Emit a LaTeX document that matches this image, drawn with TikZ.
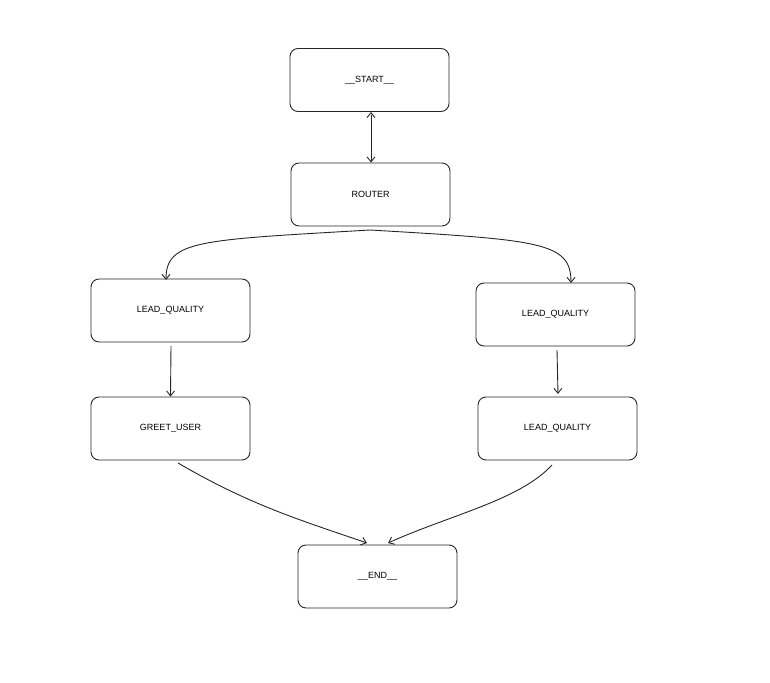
\documentclass[tikz,border=0pt]{standalone}
\usepackage{fontspec}
\setmainfont{Liberation Sans}
\usetikzlibrary{arrows.meta}
\begin{document}
\begin{tikzpicture}[x=1pt,y=-1pt,
  box/.style={draw=black!85,line width=0.9pt,rounded corners=8pt,minimum width=159pt,minimum height=63pt,font=\fontsize{9}{10}\selectfont,inner sep=0pt},
  arr/.style={draw=black!85,line width=0.9pt,-{Straight Barb[length=5pt,width=8pt]}}]
\useasboundingbox (0,0) rectangle (770,682);
\node[box] (start) at (369.5,80) {\_\_START\_\_};
\node[box] (router) at (370.5,194.5) {ROUTER};
\node[box] (lq1) at (170.5,310.5) {LEAD\_QUALITY};
\node[box] (lq2) at (555.5,314.5) {LEAD\_QUALITY};
\node[box] (greet) at (170.5,428.5) {GREET\_USER};
\node[box] (lq3) at (557.5,428.5) {LEAD\_QUALITY};
\node[box] (end) at (377.5,576.5) {\_\_END\_\_};
\draw[arr] (371,114) -- (start.south -| 371,0) ;
\draw[arr] (start.south -| 371,0) ++(0,3) -- (router.north -| 371,0);
\coordinate (split) at (370,230);
\draw[arr] (split) .. controls (200,240) and (166,240) .. (166,280);
\draw[arr] (split) .. controls (540,240) and (571,242) .. (571,283);
\draw[arr] (171,346) -- (lq1.south |- greet.north);
\draw[arr] (557,350) -- (558,394);
\draw[arr] (178,463) .. controls (250,505) and (300,520) .. (367,543);
\draw[arr] (552,465) .. controls (520,500) and (450,515) .. (388,543);
\end{tikzpicture}
\end{document}
